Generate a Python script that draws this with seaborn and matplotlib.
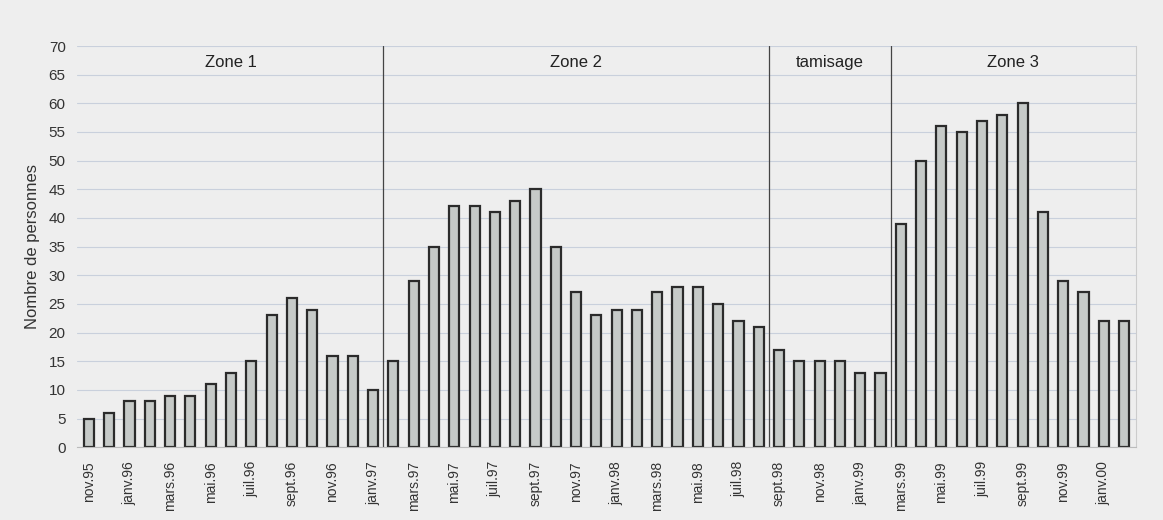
import numpy as np
import pandas as pd
import matplotlib
matplotlib.use("Agg")
import matplotlib.pyplot as plt
import seaborn as sns

# monthly counts, nov.95 -> fevr.00
mois_noms = ["janv", "févr", "mars", "avr", "mai", "juin",
             "juil", "août", "sept", "oct", "nov", "déc"]
zone1 = [5, 6, 8, 8, 9, 9, 11, 13, 15, 23, 26, 24, 16, 16, 10]
zone2 = [15, 29, 35, 42, 42, 41, 43, 45, 35, 27, 23, 24, 24, 27, 28, 28, 25, 22, 21]
tamisage = [17, 15, 15, 15, 13, 13]
zone3 = [39, 50, 56, 55, 57, 58, 60, 41, 29, 27, 22, 22]
zones = ["Zone 1", "Zone 2", "tamisage", "Zone 3"]

values = zone1 + zone2 + tamisage + zone3
months = []
m, y = 10, 95  # nov.95
for _ in values:
    months.append(f"{mois_noms[m]}.{y % 100:02d}")
    m += 1
    if m == 12:
        m, y = 0, y + 1

df = pd.DataFrame({"mois": months, "n": values})

sns.set_style("white")
plt.rcParams['font.family'] = ['Liberation Sans', 'DejaVu Sans']

bg = "#eeeeee"
fig = plt.figure(figsize=(11.63, 5.2), dpi=100, facecolor=bg)
ax = fig.add_axes([0.066, 0.14, 0.911, 0.7715], facecolor=bg)

sns.barplot(data=df, x="mois", y="n", color="#c6cac8", edgecolor="#2b2b2b",
            linewidth=1.6, width=0.5, saturation=1, ax=ax)

ax.set_ylim(0, 70)
ax.set_xlim(-0.6, len(values) - 0.4)
ax.set_yticks(range(0, 71, 5))
ax.yaxis.grid(True, color="#c9d0dc", linewidth=0.8)
ax.set_axisbelow(True)
ax.tick_params(axis="y", labelsize=11, length=0, pad=8, colors="#333333")

ax.set_xticks(range(0, len(values), 2))
ax.set_xticklabels(months[::2], rotation=90, fontsize=10, color="#333333")
ax.set_xticks(np.arange(len(values)) + 0.5, minor=True)
ax.tick_params(axis="x", which="major", length=0, pad=10)
ax.tick_params(axis="x", which="minor", length=4, color="#bbbbbb")
ax.set_xlabel("")
ax.set_ylabel("Nombre de personnes", fontsize=12, color="#333333", labelpad=6)

for s in ["left", "top"]:
    ax.spines[s].set_visible(False)
ax.spines["right"].set_color("#cccccc")
ax.spines["bottom"].set_color("#bbbbbb")

# zone separators and labels
bounds = np.cumsum([len(zone1), len(zone2), len(tamisage), len(zone3)])
starts = np.concatenate([[0], bounds[:-1]])
for b in bounds[:-1]:
    ax.axvline(b - 0.5, color="#444444", linewidth=0.9)
for name, s, e in zip(zones, starts, bounds):
    ax.text((s + e - 1) / 2, 67.2, name, ha="center", va="center",
            fontsize=12, color="#222222")

plt.savefig("out.png", dpi=100, facecolor=bg)
